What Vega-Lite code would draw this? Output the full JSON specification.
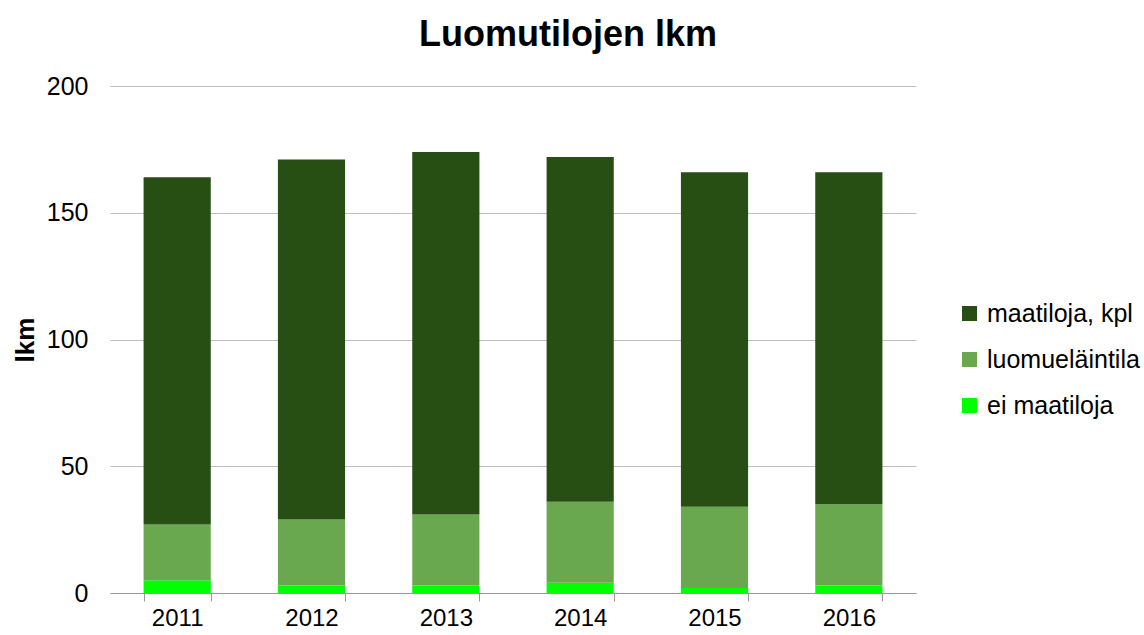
{
  "$schema": "https://vega.github.io/schema/vega-lite/v6.json",
  "width": 806,
  "height": 507,
  "autosize": "none",
  "padding": {"left": 110, "top": 86, "right": 228, "bottom": 42},
  "background": "white",
  "title": {
    "text": "Luomutilojen lkm",
    "font": "Liberation Sans",
    "fontSize": 36,
    "fontWeight": "bold",
    "color": "#000000",
    "anchor": "middle",
    "dx": 55,
    "offset": 20
  },
  "data": {
    "values": [
      {"vuosi": "2011", "tyyppi": "ei maatiloja", "lkm": 5, "ord": 1},
      {"vuosi": "2011", "tyyppi": "luomueläintila", "lkm": 22, "ord": 2},
      {"vuosi": "2011", "tyyppi": "maatiloja, kpl", "lkm": 137, "ord": 3},
      {"vuosi": "2012", "tyyppi": "ei maatiloja", "lkm": 3, "ord": 1},
      {"vuosi": "2012", "tyyppi": "luomueläintila", "lkm": 26, "ord": 2},
      {"vuosi": "2012", "tyyppi": "maatiloja, kpl", "lkm": 142, "ord": 3},
      {"vuosi": "2013", "tyyppi": "ei maatiloja", "lkm": 3, "ord": 1},
      {"vuosi": "2013", "tyyppi": "luomueläintila", "lkm": 28, "ord": 2},
      {"vuosi": "2013", "tyyppi": "maatiloja, kpl", "lkm": 143, "ord": 3},
      {"vuosi": "2014", "tyyppi": "ei maatiloja", "lkm": 4, "ord": 1},
      {"vuosi": "2014", "tyyppi": "luomueläintila", "lkm": 32, "ord": 2},
      {"vuosi": "2014", "tyyppi": "maatiloja, kpl", "lkm": 136, "ord": 3},
      {"vuosi": "2015", "tyyppi": "ei maatiloja", "lkm": 2, "ord": 1},
      {"vuosi": "2015", "tyyppi": "luomueläintila", "lkm": 32, "ord": 2},
      {"vuosi": "2015", "tyyppi": "maatiloja, kpl", "lkm": 132, "ord": 3},
      {"vuosi": "2016", "tyyppi": "ei maatiloja", "lkm": 3, "ord": 1},
      {"vuosi": "2016", "tyyppi": "luomueläintila", "lkm": 32, "ord": 2},
      {"vuosi": "2016", "tyyppi": "maatiloja, kpl", "lkm": 131, "ord": 3}
    ]
  },
  "mark": {"type": "bar"},
  "encoding": {
    "x": {
      "field": "vuosi",
      "type": "nominal",
      "scale": {"paddingInner": 0.5, "paddingOuter": 0.25},
      "axis": {
        "title": null,
        "labelAngle": 0,
        "tickBand": "extent",
        "tickSize": 8,
        "tickColor": "#999999",
        "domainColor": "#999999",
        "labelPadding": 5,
        "labelFontSize": 24
      }
    },
    "y": {
      "field": "lkm",
      "type": "quantitative",
      "stack": "zero",
      "scale": {"domain": [0, 200]},
      "axis": {
        "title": "lkm",
        "values": [0, 50, 100, 150, 200],
        "ticks": false,
        "domain": false,
        "labelPadding": 22,
        "labelFontSize": 25,
        "titleFontSize": 26,
        "titleFontWeight": "bold",
        "titlePadding": 8,
        "gridColor": "#bfbfbf"
      }
    },
    "color": {
      "field": "tyyppi",
      "type": "nominal",
      "scale": {
        "domain": ["maatiloja, kpl", "luomueläintila", "ei maatiloja"],
        "range": ["#274e13", "#6aa84f", "#00ff00"]
      },
      "legend": {
        "title": null,
        "orient": "none",
        "legendX": 847,
        "legendY": 215,
        "symbolType": "square",
        "symbolSize": 225,
        "symbolStrokeWidth": 0,
        "labelFontSize": 25,
        "labelOffset": 5,
        "rowPadding": 20
      }
    },
    "order": {"field": "ord", "type": "quantitative"}
  },
  "config": {
    "font": "Liberation Sans",
    "view": {"stroke": null},
    "axis": {
      "labelColor": "#000000",
      "titleColor": "#000000",
      "labelFont": "Liberation Sans",
      "titleFont": "Liberation Sans"
    },
    "legend": {"labelColor": "#000000", "labelFont": "Liberation Sans", "labelLimit": 300}
  }
}
